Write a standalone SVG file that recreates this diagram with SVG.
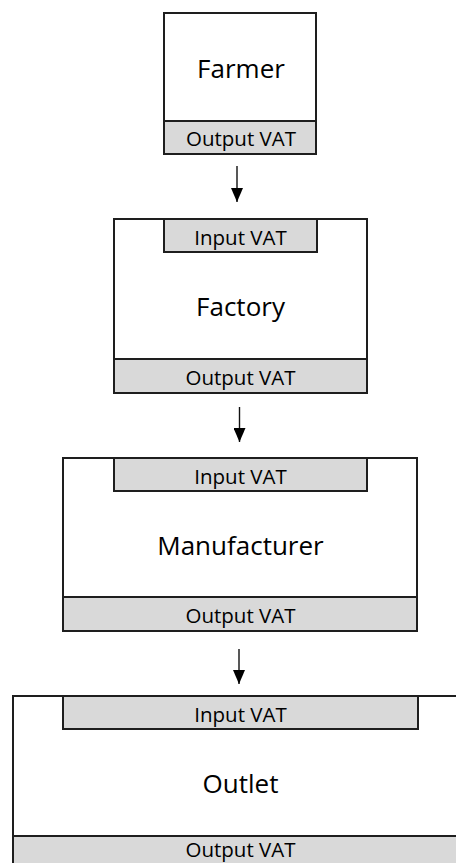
<svg xmlns="http://www.w3.org/2000/svg" width="456" height="863" viewBox="0 0 456 863">
<style>
.box{fill:#ffffff;stroke:#1e1e1e;stroke-width:2}
.vat{fill:#d9d9d9;stroke:#1e1e1e;stroke-width:2}
.main{font-family:"Open Sans","Liberation Sans",sans-serif;font-size:26px;fill:#000;text-anchor:middle}
.sub{font-family:"Open Sans","Liberation Sans",sans-serif;font-size:20.5px;fill:#000;text-anchor:middle}
.conn{stroke:#111;stroke-width:1.4;fill:none}
</style>
<defs>
<marker id="ah" markerUnits="userSpaceOnUse" markerWidth="14" markerHeight="12" refX="14" refY="6" orient="auto" viewBox="0 0 14 12">
<path d="M0,0 L14,6 L0,12 Z" fill="#000"/>
</marker>
</defs>
<rect width="456" height="863" fill="#fff"/>
<g id="farmer">
<rect class="box" x="164" y="13" width="152" height="141"/>
<rect class="vat" x="164" y="121" width="152" height="33"/>
<text class="main" x="241" y="78">Farmer</text>
<text class="sub" x="241" y="145.5">Output VAT</text>
</g>
<g id="factory">
<rect class="box" x="114" y="219" width="253" height="174"/>
<rect class="vat" x="164" y="219" width="153" height="33"/>
<rect class="vat" x="114" y="359" width="253" height="34"/>
<text class="sub" x="240.5" y="244.5">Input VAT</text>
<text class="main" x="240.5" y="316">Factory</text>
<text class="sub" x="240.5" y="384.5">Output VAT</text>
</g>
<g id="manufacturer">
<rect class="box" x="63" y="458" width="354" height="173"/>
<rect class="vat" x="114" y="458" width="253" height="33"/>
<rect class="vat" x="63" y="597" width="354" height="34"/>
<text class="sub" x="240.5" y="483.5">Input VAT</text>
<text class="main" x="240.5" y="555">Manufacturer</text>
<text class="sub" x="240.5" y="622.5">Output VAT</text>
</g>
<g id="outlet">
<rect class="box" x="13" y="696" width="460" height="180"/>
<rect class="vat" x="63" y="696" width="355" height="33"/>
<rect class="vat" x="13" y="836" width="460" height="40"/>
<text class="sub" x="240.5" y="721.5">Input VAT</text>
<text class="main" x="240.5" y="793">Outlet</text>
<text class="sub" x="240.5" y="857">Output VAT</text>
</g>
<g id="connectors">
<line class="conn" x1="237" y1="166" x2="237" y2="202" marker-end="url(#ah)"/>
<line class="conn" x1="239.5" y1="407" x2="239.5" y2="442" marker-end="url(#ah)"/>
<line class="conn" x1="239" y1="649" x2="239" y2="684" marker-end="url(#ah)"/>
</g>
</svg>
